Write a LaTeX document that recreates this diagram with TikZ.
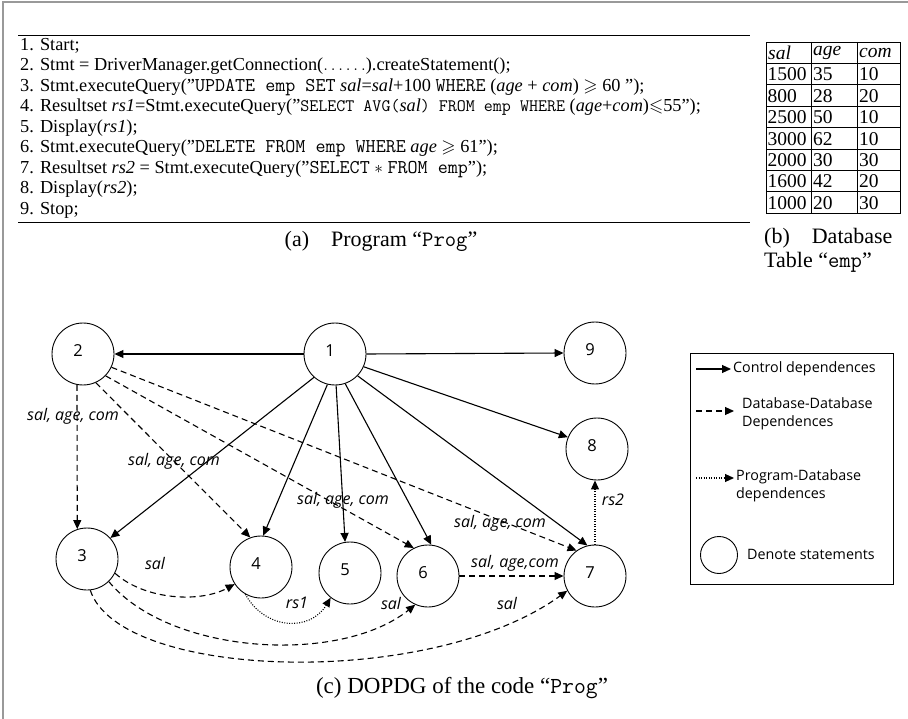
\documentclass[tikz,border=0pt]{standalone}
\usepackage{amssymb}
\usepackage{fontspec}
\setmainfont{Liberation Serif}
\newfontfamily\gsans{Open Sans}
\usetikzlibrary{arrows.meta}
\newcommand\ttcode[1]{{\fontsize{19.5}{20}\selectfont\ttfamily #1}}
\newcommand\ttsmall[1]{{\fontsize{17.5}{20}\selectfont\ttfamily #1}}
\begin{document}
\begin{tikzpicture}[x=1pt,y=-1pt,
  stmt/.style={circle,draw,line width=0.9pt,minimum size=62pt,inner sep=0pt},
  numlbl/.style={label={[font=\gsans\fontsize{16.5}{19}\selectfont,xshift=-5pt,yshift=3pt]center:#1}},
  arrtip/.style={-{Triangle[length=9pt,width=8pt]}},
  ctrl/.style={line width=1.1pt,arrtip},
  ddep/.style={line width=1.1pt,dash pattern=on 6pt off 4pt,arrtip},
  pdep/.style={line width=1.1pt,dash pattern=on 1pt off 1.5pt,arrtip},
  elbl/.style={font=\gsans\itshape\fontsize{16}{18}\selectfont,inner sep=0pt},
  legtxt/.style={font=\gsans\fontsize{14.3}{18}\selectfont,inner sep=0pt,anchor=west,align=left},
  codeline/.style={anchor=west,inner sep=0pt,font=\fontsize{18.3}{20}\selectfont},
  captxt/.style={inner sep=0pt,font=\fontsize{22}{26}\selectfont},
  celltxt/.style={anchor=west,inner sep=0pt,font=\fontsize{19.5}{21}\selectfont},
]
\useasboundingbox (0,0) rectangle (908,719);
% outer frame (top and left edges)
\draw[gray!80,line width=1.6pt] (3,719) -- (3,2) -- (908,2);

% program
\draw[line width=0.8pt] (18,35) -- (750,35);
\draw[line width=0.8pt] (18,222) -- (750,222);
\node[codeline] (l1) at (20,46) {1. Start;};
\node[codeline] (l2) at (20,66.5) {2. Stmt = DriverManager.getConnection($\ldots\ldots$).createStatement();};
\node[codeline] (l3) at (20,87) {3. Stmt.executeQuery(”\ttcode{UPDATE emp SET} \textit{sal}=\textit{sal}+100 \ttcode{WHERE} (\textit{age} + \textit{com}) $\geqslant$ 60 ”);};
\node[codeline] (l4) at (20,107.5) {4. Resultset \textit{rs1}=Stmt.executeQuery(”\ttsmall{SELECT AVG(}\textit{sal}\ttsmall{) FROM emp WHERE} (\textit{age}+\textit{com})$\leqslant$55”);};
\node[codeline] (l5) at (20,128) {5. Display(\textit{rs1});};
\node[codeline] (l6) at (20,148.5) {6. Stmt.executeQuery(”\ttcode{DELETE FROM emp WHERE} \textit{age} $\geqslant$ 61”);};
\node[codeline] (l7) at (20,169) {7. Resultset \textit{rs2} = Stmt.executeQuery(”\ttcode{SELECT} $*$ \ttcode{FROM emp}”);};
\node[codeline] (l8) at (20,189.5) {8. Display(\textit{rs2});};
\node[codeline] (l9) at (20,210) {9. Stop;};
\node[captxt] (capa) at (381,241) {(a)\quad Program “\texttt{Prog}”};

% table
\draw[line width=0.7pt] (766,42) rectangle (900,213);
\foreach \xx in {811,857} \draw[line width=0.7pt] (\xx,42) -- (\xx,213);
\foreach \k in {1,...,7} \draw[line width=0.7pt] (766,42+21.375*\k) -- (900,42+21.375*\k);
\node[celltxt] (h1) at (768,52.7) {\textit{sal}};
\node[celltxt] (h2) at (813,52.7) {\textit{age}};
\node[celltxt] (h3) at (859,52.7) {\textit{com}};
\foreach \a/\b/\c [count=\r] in {1500/35/10,800/28/20,2500/50/10,3000/62/10,2000/30/30,1600/42/20,1000/20/30}{
  \node[celltxt] (r\r a) at (767.5,53.2+21.375*\r) {\a};
  \node[celltxt] (r\r b) at (813,53.2+21.375*\r) {\b};
  \node[celltxt] (r\r c) at (859,53.2+21.375*\r) {\c};
}
\node[captxt,anchor=west] (capb1) at (764,238) {(b)\quad Database};
\node[captxt,anchor=west] (capb2) at (764,262) {Table “\texttt{emp}”};

% graph nodes
\node[stmt,numlbl=1] (n1) at (335,354) {};
\node[stmt,numlbl=2] (n2) at (83,354) {};
\node[stmt,numlbl=9] (n9) at (595,353) {};
\node[stmt,numlbl=8] (n8) at (597,449) {};
\node[stmt,numlbl=3] (n3) at (87,559) {};
\node[stmt,numlbl=4] (n4) at (261,567) {};
\node[stmt,numlbl=5] (n5) at (350,573) {};
\node[stmt,numlbl=6] (n6) at (428,576) {};
\node[stmt,numlbl=7] (n7) at (595,576) {};

% control dependences
\draw[ctrl] (n1.west) -- (n2.east);
\draw[ctrl] (n1.east) -- (n9.west);
\draw[ctrl] (n1.-24) -- (n8.158);
\draw[ctrl] (n1.-132) -- (n3.42);
\draw[ctrl] (n1.-104) -- (n4.86);
\draw[ctrl] (n1.-88) -- (n5.99);
\draw[ctrl] (n1.-71) -- (n6.84);
\draw[ctrl] (n1.-44) -- (n7.104);

% database-database dependences
\draw[ddep] (n2.-101) -- (n3.108);
\draw[ddep] (n2.-66) -- (n4.110);
\draw[ddep] (n2.-44) -- (n6.117);
\draw[ddep] (n2.-25) -- (n7.126);
\draw[ddep] (n6.east) -- (n7.west);
\draw[ddep] (n3.-27) .. controls (145,600) and (200,603) .. (n4.-147);
\draw[ddep] (n3.-46) .. controls (170,655) and (340,665) .. (n6.-114);
\draw[ddep] (n3.-84) .. controls (120,680) and (430,690) .. (n7.-152);

% program-database dependences
\draw[pdep] (n4.-120) .. controls (265,630) and (310,632) .. (n5.-128);
\draw[pdep] (n7.north) -- (n7.north |- n8.south);

% edge labels
\node[elbl] (e23) at (73,416) {sal, age, com};
\node[elbl] (e24) at (174,461) {sal, age, com};
\node[elbl] (e26) at (343,500) {sal, age, com};
\node[elbl] (e27) at (500,523) {sal, age, com};
\node[elbl] (e34) at (155,563) {sal};
\node[elbl] (e45) at (297,603) {rs1};
\node[elbl] (e36) at (391,603) {sal};
\node[elbl] (e67) at (515,563) {sal, age,com};
\node[elbl] (e37) at (507,603) {sal};
\node[elbl] (e78) at (613,500) {rs2};

% legend
\node[draw,line width=0.8pt,minimum width=203pt,minimum height=231pt,inner sep=0pt,anchor=north west] (legbox) at (690,353) {};
\coordinate (c1a) at (696,369); \coordinate (c1b) at (731,369);
\draw[ctrl] (c1a) -- (c1b);
\node[legtxt] (t1) at (733,369) {Control dependences};
\coordinate (c2a) at (696,411); \coordinate (c2b) at (734,411);
\draw[ddep] (c2a) -- (c2b);
\node[legtxt] (t2) at (742,414) {Database-Database\\Dependences};
\coordinate (c3a) at (696,478); \coordinate (c3b) at (734,478);
\draw[pdep] (c3a) -- (c3b);
\node[legtxt] (t3) at (736,486) {Program-Database\\dependences};
\node[circle,draw,line width=0.9pt,minimum size=37pt,inner sep=0pt] (legc) at (719,555) {};
\node[legtxt] (t4) at (747,554) {Denote statements};

\node[captxt,font=\fontsize{23}{27}\selectfont] (capc) at (462,688) {(c) DOPDG of the code “\texttt{Prog}”};
\end{tikzpicture}
\end{document}
